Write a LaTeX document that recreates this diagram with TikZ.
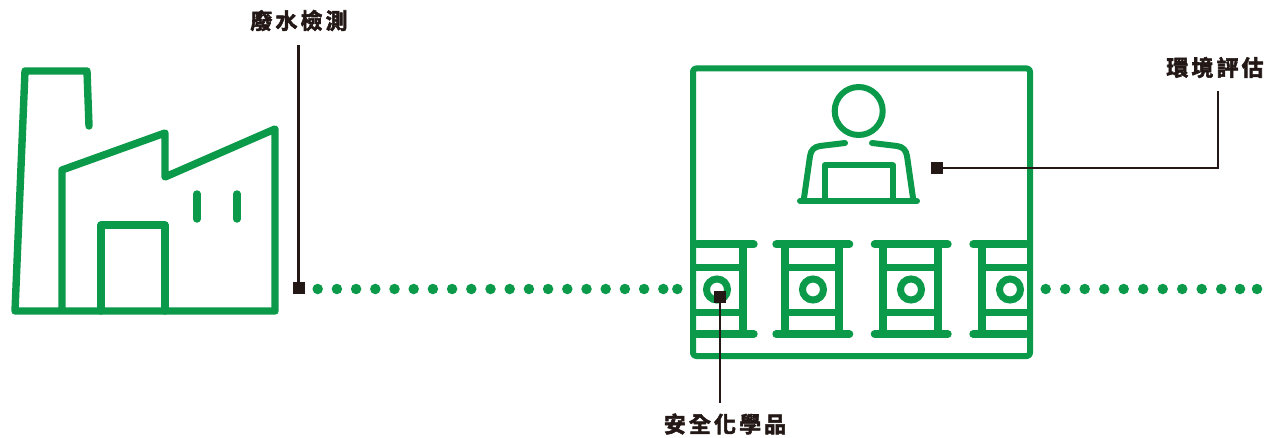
\documentclass[tikz,border=0pt]{standalone}
\usepackage{fontspec}
\newfontfamily\cjk[LetterSpace=14,BoldFont={Noto Sans CJK TC Bold},BoldFeatures={FakeBold=2.5}]{Noto Sans CJK TC}
\definecolor{gr}{HTML}{0A9A4A}
\definecolor{ink}{HTML}{231815}
\tikzset{
  gline/.style={draw=gr,line width=7.4pt,line join=round,line cap=round},
  room/.style={draw=gr,line width=6pt,line join=round,line cap=round},
  hoop/.style={draw=gr,line width=7pt},
  bar/.style={draw=gr,line width=8pt,line cap=round},
  hair/.style={draw=ink,line width=2.4pt},
  sq/.style={fill=ink,minimum size=12pt,inner sep=0pt,outer sep=0pt},
  lbl/.style={text=ink,font=\cjk\bfseries\fontsize{22}{24}\selectfont,inner sep=0pt},
  dotg/.style={fill=gr,circle,minimum size=10.5pt,inner sep=0pt}
}
\begin{document}
\begin{tikzpicture}[x=1pt,y=-1pt]
\useasboundingbox (0,0) rectangle (1265,438);
% factory
\draw[gline] (89,126) -- (87,71) -- (25,71) -- (15,311) -- (275,311) -- (275,129) -- (165,177) -- (165,133) -- (62,170) -- (62,311);
\draw[gline] (101,311) -- (101,225) -- (165,225) -- (165,311);
\draw[gline] (197,194) -- (197,219);
\draw[gline] (237,194) -- (237,219);
% dots
\foreach \x in {317.7,336.9,356.1,375.3,394.5,413.7,432.9,452.1,471.3,490.5,509.7,528.9,548.1,567.3,586.5,605.7,624.9,644.1,663.3,677.3} \node[dotg] at (\x,289) {};
\foreach \x in {1045.7,1065.2,1084.7,1104.2,1123.7,1143.2,1162.7,1182.2,1201.7,1221.2,1240,1257} \node[dotg] at (\x,289) {};
% room
\draw[room,rounded corners=3pt] (693,68.5) rectangle (1030,356);
% person
\draw[room] (858.7,111) circle (24);
\draw[room] (845,143) -- (820,146) .. controls (814,147) and (811,150) .. (810,156) -- (804,198);
\draw[room] (872,143) -- (897,146) .. controls (903,147) and (906,150) .. (907,156) -- (913,198);
\draw[room] (824.5,200) -- (824.5,165.5) -- (893,165.5) -- (893,200);
\draw[room] (800,201) -- (917,201);
% barrels
\foreach \a/\b/\c/\d/\e in {697/753.7/693/743/717, 776.3/849.3/785/839/813, 874.7/947.7/883/938/911, 973.3/1026/982/1030/1010}{
  \draw[bar] (\a,244.5) -- (\b,244.5);
  \draw[bar] (\a,334) -- (\b,334);
  \draw[hoop] (\c,267) -- (\d,267);
  \draw[hoop] (\c,312) -- (\d,312);
  \draw[hoop] (\e,289.5) circle (10.5);
}
\foreach \x in {743,785,839,883,938,982}
  \draw[bar,line cap=butt] (\x,244.5) -- (\x,334);
% labels and leaders
\node[lbl] (t1) at (299,20.5) {廢水檢測};
\node[lbl] (t2) at (1215,67.5) {環境評估};
\node[lbl] (t3) at (725,424) {安全化學品};
\node[sq] (s1) at (298.5,288) {};
\node[sq] (s2) at (937,168) {};
\node[sq] (s3) at (720,296.5) {};
\coordinate (c1) at (298.5,45);
\coordinate (c2) at (1218,91);
\coordinate (c3) at (720,403);
\draw[hair] (s1.center) -- (c1);
\draw[hair] (s2.center) -- (c2 |- s2.center) -- (c2);
\draw[hair] (s3.center) -- (c3);
\end{tikzpicture}
\end{document}
